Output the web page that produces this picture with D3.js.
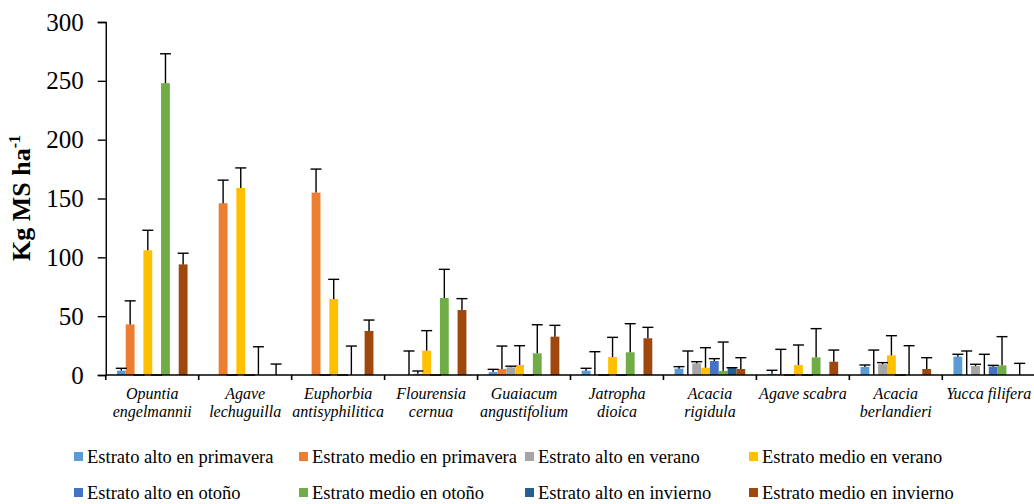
<!DOCTYPE html>
<html>
<head>
<meta charset="utf-8">
<script src="https://cdn.jsdelivr.net/npm/d3@7"></script>
<style>
  html, body { margin: 0; padding: 0; background: #fff; }
  svg { display: block; }
</style>
</head>
<body>
<svg id="chart" width="1034" height="504"></svg>
<script>
// Species (x-axis groups), each label split into display lines
const categories = [
  "Opuntia engelmannii", "Agave lechuguilla", "Euphorbia antisyphilitica",
  "Flourensia cernua", "Guaiacum angustifolium", "Jatropha dioica",
  "Acacia rigidula", "Agave scabra", "Acacia berlandieri", "Yucca filifera"
];
const categoryLines = [
  ["Opuntia", "engelmannii"], ["Agave", "lechuguilla"], ["Euphorbia", "antisyphilitica"],
  ["Flourensia", "cernua"], ["Guaiacum", "angustifolium"], ["Jatropha", "dioica"],
  ["Acacia", "rigidula"], ["Agave scabra"], ["Acacia", "berlandieri"], ["Yucca filifera"]
];

const seriesNames = [
  "Estrato alto en primavera", "Estrato medio en primavera",
  "Estrato alto en verano", "Estrato medio en verano",
  "Estrato alto en otoño", "Estrato medio en otoño",
  "Estrato alto en invierno", "Estrato medio en invierno"
];
const seriesColors = ["#5B9BD5", "#ED7D31", "#A5A5A5", "#FFC000", "#4472C4", "#70AD47", "#255E91", "#9E480E"];

// Mean biomass (kg MS/ha) per series, one value per species; null = not recorded
const altoPrimavera  = [3.7, null, null, null, 2.5, 3.7, 5.4, 1.0, 6.8, 15.6];
const medioPrimavera = [43, 146, 155, 0, 5.1, 0, 0, 0.5, 0, 0];
const altoVerano     = [0, 0, 0, 1.0, 6.5, 0, 9.9, 0, 9.1, 7.6];
const medioVerano    = [106, 159, 64.6, 20.7, 8.5, 15.3, 6.2, 8.5, 16.7, 0];
const altoOtono      = [0, 0, 0, 0, 0, 0, 11.9, 0, 0, 7.1];
const medioOtono     = [248, 0, 0, 65.4, 18.4, 19.3, 3.4, 15, 0, 8.2];
const altoInvierno   = [null, null, null, null, null, null, 5.9, null, null, null];
const medioInvierno  = [94, 0, 37.4, 55.2, 32.6, 31.2, 5.1, 11.3, 5.1, 0];

// Standard error (upper whisker length) per series
const errAltoPrimavera  = [2, null, null, null, 2.3, 2, 1.7, 3, 1.7, 2];
const errMedioPrimavera = [20, 19.6, 20, 20.4, 19.5, 19.8, 20.4, 21.3, 21.2, 20.4];
const errAltoVerano     = [0, 0, 0, 2.4, 1, 0, 1.4, 0, 1.4, 1.5];
const errMedioVerano    = [17, 17, 16.7, 17, 16.4, 16.7, 17, 17, 16.7, 17.6];
const errAltoOtono      = [0, 0, 0, 0, 0, 0, 2, 0, 0, 1.1];
const errMedioOtono     = [25, 24, 24.6, 24.4, 24.3, 24.3, 24.6, 24.4, 24.9, 24.4];
const errAltoInvierno   = [null, null, null, null, null, null, 0.3, null, null, null];
const errMedioInvierno  = [9.5, 9.3, 9.3, 9.7, 9.6, 9.3, 9.6, 9.9, 9.6, 9.9];

const yTicks = [0, 50, 100, 150, 200, 250, 300];

const values = [altoPrimavera, medioPrimavera, altoVerano, medioVerano, altoOtono, medioOtono, altoInvierno, medioInvierno];
const errors = [errAltoPrimavera, errMedioPrimavera, errAltoVerano, errMedioVerano, errAltoOtono, errMedioOtono, errAltoInvierno, errMedioInvierno];

const svg = d3.select("#chart");
const serif = "'Liberation Serif', 'Times New Roman', serif";

const plotLeft = 105.75, plotRight = 1035.25, plotTop = 22, plotBottom = 375;

const x0 = d3.scaleBand().domain(categories).range([plotLeft, plotRight])
  .paddingInner(0.24).paddingOuter(0.12);
const x1 = d3.scaleBand().domain(d3.range(seriesNames.length)).range([0, x0.bandwidth()]).padding(0);
const y = d3.scaleLinear().domain([0, 300]).range([plotBottom, plotTop]);

// Flatten records
const records = [];
categories.forEach((c, ci) => {
  values.forEach((arr, si) => {
    const v = arr[ci];
    if (v === null) return;
    records.push({ cat: c, s: si, v: v, e: errors[si][ci] || 0 });
  });
});

// Bars
svg.append("g").selectAll("rect").data(records).join("rect")
  .attr("x", d => x0(d.cat) + x1(d.s))
  .attr("width", x1.bandwidth())
  .attr("y", d => y(d.v))
  .attr("height", d => y(0) - y(d.v))
  .attr("fill", d => seriesColors[d.s]);

// Upper error bars
const capHalf = 5.5;
const eg = svg.append("g").attr("stroke", "#000").attr("stroke-width", 1.4).attr("fill", "none");
records.forEach(d => {
  const cx = x0(d.cat) + x1(d.s) + x1.bandwidth() / 2;
  const top = y(d.v + d.e);
  if (d.e > 0) {
    eg.append("line").attr("x1", cx).attr("x2", cx).attr("y1", y(d.v)).attr("y2", top);
  }
  eg.append("line").attr("x1", cx - capHalf).attr("x2", cx + capHalf).attr("y1", top).attr("y2", top);
});

// Y axis
const yAxis = d3.axisLeft(y).tickValues(yTicks).tickSize(8).tickPadding(14).tickFormat(d3.format("d"));
const ya = svg.append("g").attr("transform", `translate(${plotLeft},0)`).call(yAxis);
ya.select(".domain").attr("stroke", "#000").attr("stroke-width", 1.4);
ya.selectAll(".tick line").attr("stroke", "#000").attr("stroke-width", 1.4);
ya.selectAll(".tick text").attr("font-family", serif).attr("font-size", 25).attr("fill", "#000");

// X axis line with group boundary ticks
const step = x0.step();
const boundaries = categories.map(c => x0(c) - step * x0.paddingInner() / 2).concat([plotRight]);
const xa = svg.append("g");
xa.append("line").attr("x1", plotLeft).attr("x2", plotRight).attr("y1", plotBottom).attr("y2", plotBottom)
  .attr("stroke", "#000").attr("stroke-width", 1.6);
xa.selectAll("line.tk").data(boundaries).join("line").attr("class", "tk")
  .attr("x1", d => d).attr("x2", d => d).attr("y1", plotBottom).attr("y2", plotBottom + 5)
  .attr("stroke", "#000").attr("stroke-width", 1.6);

// Category labels
categories.forEach((c, ci) => {
  const cx = x0(c) + x0.bandwidth() / 2;
  categoryLines[ci].forEach((ln, li) => {
    svg.append("text").attr("x", cx).attr("y", 399 + li * 18)
      .attr("text-anchor", "middle").attr("font-family", serif)
      .attr("font-style", "italic").attr("font-size", 16).attr("fill", "#000")
      .text(ln);
  });
});

// Y axis title with superscript
const yt = svg.append("text").attr("transform", "translate(30,198) rotate(-90)")
  .attr("text-anchor", "middle").attr("font-family", serif).attr("font-weight", "bold")
  .attr("font-size", 26).attr("fill", "#000");
yt.append("tspan").text("Kg MS ha");
yt.append("tspan").attr("dy", -10).attr("font-size", 16).text("-1");

// Legend: 4 columns x 2 rows
const legendX = [74, 299, 525, 749];
const legendY = [452, 488];
const lg = svg.append("g");
seriesNames.forEach((name, i) => {
  const col = i % 4, row = Math.floor(i / 4);
  lg.append("rect").attr("x", legendX[col]).attr("y", legendY[row]).attr("width", 9).attr("height", 9)
    .attr("fill", seriesColors[i]);
  lg.append("text").attr("x", legendX[col] + 13).attr("y", legendY[row] + 10.5)
    .attr("font-family", serif).attr("font-size", 18.5).attr("fill", "#000").text(name);
});
</script>
</body>
</html>
